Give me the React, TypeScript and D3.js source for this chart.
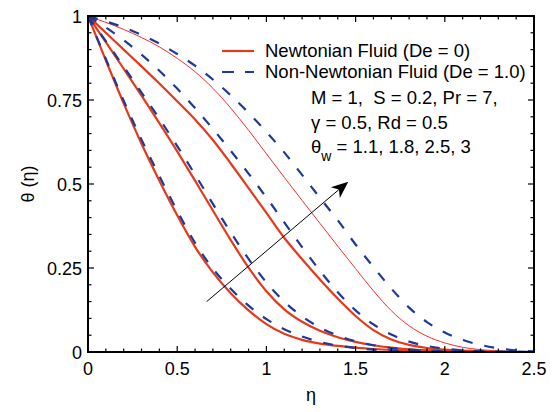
import React from 'react';
import * as d3 from 'd3';

// eta grid and temperature profiles
const eta = [0, 0.1, 0.2, 0.3, 0.4, 0.5, 0.6, 0.7, 0.8, 0.9, 1.0, 1.1, 1.2, 1.3, 1.4, 1.5, 1.6, 1.7, 1.8, 1.9, 2.0, 2.1, 2.2, 2.3, 2.4, 2.5];

// Newtonian (De = 0), theta_w = 1.1, 1.8, 2.5, 3
const newt11 = [1, 0.868, 0.740, 0.620, 0.510, 0.407, 0.313, 0.237, 0.175, 0.124, 0.083, 0.054, 0.036, 0.025, 0.018, 0.013, 0.009, 0.006, 0.004, 0.003, 0.002, 0.001, 0.001, 0, 0, 0];
const newt18 = [1, 0.922, 0.843, 0.763, 0.681, 0.597, 0.510, 0.421, 0.333, 0.251, 0.181, 0.127, 0.090, 0.063, 0.044, 0.030, 0.020, 0.013, 0.008, 0.005, 0.003, 0.002, 0.001, 0, 0, 0];
const newt25 = [1, 0.950, 0.900, 0.850, 0.799, 0.746, 0.692, 0.631, 0.561, 0.488, 0.414, 0.340, 0.276, 0.216, 0.159, 0.107, 0.065, 0.037, 0.021, 0.012, 0.007, 0.004, 0.002, 0.001, 0, 0];
const newt30 = [1, 0.981, 0.960, 0.936, 0.908, 0.874, 0.834, 0.785, 0.726, 0.660, 0.590, 0.520, 0.451, 0.383, 0.315, 0.248, 0.182, 0.123, 0.078, 0.047, 0.027, 0.014, 0.007, 0.003, 0.001, 0];

// Non-Newtonian (De = 1.0)
const nonNewt11 = [1, 0.872, 0.748, 0.632, 0.524, 0.420, 0.325, 0.248, 0.188, 0.138, 0.098, 0.068, 0.046, 0.030, 0.019, 0.012, 0.007, 0.004, 0.003, 0.002, 0.001, 0, 0, 0, 0, 0];
const nonNewt18 = [1, 0.925, 0.849, 0.772, 0.694, 0.613, 0.528, 0.441, 0.356, 0.277, 0.207, 0.150, 0.106, 0.073, 0.049, 0.032, 0.020, 0.012, 0.007, 0.004, 0.002, 0.001, 0.001, 0, 0, 0];
const nonNewt25 = [1, 0.966, 0.928, 0.885, 0.837, 0.784, 0.726, 0.664, 0.599, 0.531, 0.460, 0.386, 0.312, 0.242, 0.178, 0.124, 0.082, 0.052, 0.031, 0.018, 0.010, 0.005, 0.003, 0.001, 0.001, 0];
const nonNewt30 = [1, 0.984, 0.966, 0.944, 0.918, 0.887, 0.852, 0.811, 0.764, 0.712, 0.655, 0.594, 0.527, 0.459, 0.392, 0.320, 0.253, 0.189, 0.132, 0.089, 0.058, 0.036, 0.021, 0.011, 0.005, 0.002];

const xTicks = [0, 0.5, 1, 1.5, 2, 2.5];
const xTickLabels = ['0', '0.5', '1', '1.5', '2', '2.5'];
const yTicks = [0, 0.25, 0.5, 0.75, 1];
const yTickLabels = ['0', '0.25', '0.5', '0.75', '1'];

// arrow across the curves (direction of increasing theta_w)
const arrowFrom = [0.665, 0.15];
const arrowTo = [1.459, 0.507];

const RED = '#e5391a';
const RED_THIN = '#ff2b2b';
const BLUE = '#1d3a98';
const FONT = 'Liberation Sans, Arial, Helvetica, sans-serif';

export default function App() {
  const W = 555, H = 412;
  const m = { left: 88, right: 534, top: 16, bottom: 352 };

  const x = d3.scaleLinear().domain([0, 2.5]).range([m.left, m.right]);
  const y = d3.scaleLinear().domain([0, 1]).range([m.bottom, m.top]);

  const line = d3.line<number>()
    .x((_, i) => x(eta[i]))
    .y(d => y(d))
    .curve(d3.curveMonotoneX);

  const solid = [newt11, newt18, newt25];
  const dashed = [nonNewt11, nonNewt18, nonNewt25, nonNewt30];

  const xMinor = d3.range(0, 26).map(i => i / 10);
  const yMinor = d3.range(0, 21).map(i => i / 20);

  const ax = x(arrowFrom[0]), ay = y(arrowFrom[1]);
  const bx = x(arrowTo[0]), by = y(arrowTo[1]);
  const ang = Math.atan2(by - ay, bx - ax);
  const hl = 17, hw = 7;
  const p = (l: number, w: number) => [
    bx - l * Math.cos(ang) - w * Math.sin(ang),
    by - l * Math.sin(ang) + w * Math.cos(ang),
  ];
  const h1 = p(hl, hw), h2 = p(hl * 0.72, 0), h3 = p(hl, -hw);

  return (
    <svg width={W} height={H} style={{ position: 'absolute', left: 0, top: 0, background: '#fff' }}
      fontFamily={FONT}>
      <defs>
        <clipPath id="plot">
          <rect x={m.left} y={m.top} width={m.right - m.left} height={m.bottom - m.top} />
        </clipPath>
      </defs>

      <g clipPath="url(#plot)" fill="none">
        {solid.map((s, i) => (
          <path key={'s' + i} d={line(s) || ''} stroke={RED} strokeWidth={2.2} />
        ))}
        <path d={line(newt30) || ''} stroke={RED_THIN} strokeWidth={1} />
        {dashed.map((s, i) => (
          <path key={'d' + i} d={line(s) || ''} stroke={BLUE} strokeWidth={2.2} strokeDasharray="10,12" />
        ))}
      </g>

      {/* arrow */}
      <line x1={ax} y1={ay} x2={h2[0]} y2={h2[1]} stroke="#000" strokeWidth={1} />
      <path d={`M${bx},${by}L${h1[0]},${h1[1]}L${h2[0]},${h2[1]}L${h3[0]},${h3[1]}Z`} fill="#000" />

      {/* ticks */}
      <g stroke="#000" strokeWidth={1.2}>
        {xMinor.map((t, i) => {
          const major = i % 5 === 0;
          const l = major ? 6 : 3.5;
          return (
            <g key={'xt' + i}>
              <line x1={x(t)} x2={x(t)} y1={m.bottom} y2={m.bottom - l} />
              <line x1={x(t)} x2={x(t)} y1={m.top} y2={m.top + l} />
            </g>
          );
        })}
        {yMinor.map((t, i) => {
          const major = i % 5 === 0;
          const l = major ? 6 : 3.5;
          return (
            <g key={'yt' + i}>
              <line x1={m.left} x2={m.left + l} y1={y(t)} y2={y(t)} />
              <line x1={m.right} x2={m.right - l} y1={y(t)} y2={y(t)} />
            </g>
          );
        })}
      </g>

      <rect x={m.left} y={m.top} width={m.right - m.left} height={m.bottom - m.top}
        fill="none" stroke="#000" strokeWidth={2} />

      {/* tick labels */}
      <g fontSize={18} fill="#000">
        {xTicks.map((t, i) => (
          <text key={'xl' + i} x={x(t)} y={375} textAnchor="middle">{xTickLabels[i]}</text>
        ))}
        {yTicks.map((t, i) => (
          <text key={'yl' + i} x={m.left - 6} y={y(t) + 6.5} textAnchor="end">{yTickLabels[i]}</text>
        ))}
      </g>

      {/* axis titles */}
      <text x={(m.left + m.right) / 2} y={401} textAnchor="middle" fontSize={18}>η</text>
      <text transform={`translate(34,${(m.top + m.bottom) / 2}) rotate(-90)`} textAnchor="middle" fontSize={18}>θ (η)</text>

      {/* legend */}
      <line x1={222} x2={254} y1={51} y2={51} stroke={RED} strokeWidth={2.2} />
      <line x1={222} x2={254} y1={72} y2={72} stroke={BLUE} strokeWidth={2.2} strokeDasharray="12,11" />
      <text x={265} y={57} fontSize={18.5}>Newtonian Fluid (De = 0)</text>
      <text x={265} y={78} fontSize={18.5}>Non-Newtonian Fluid (De = 1.0)</text>

      {/* parameters */}
      <g fontSize={18.5}>
        <text x={311} y={104} xmlSpace="preserve" style={{ whiteSpace: 'pre' }}>{'M = 1,\u00a0 S = 0.2, Pr = 7,'}</text>
        <text x={311} y={129}>{'γ = 0.5, Rd = 0.5'}</text>
        <text x={311} y={153}>
          <tspan>θ</tspan>
          <tspan fontSize={14} dy={8}>w</tspan>
          <tspan dy={-8}>{' = 1.1, 1.8, 2.5, 3'}</tspan>
        </text>
      </g>
    </svg>
  );
}
